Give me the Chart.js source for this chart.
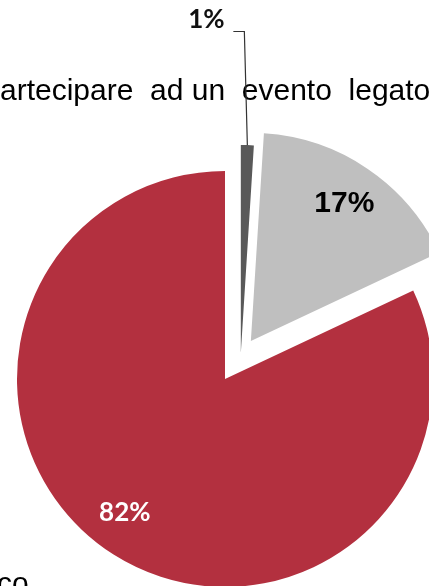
<!DOCTYPE html>
<html>
<head>
<meta charset="utf-8">
<script src="https://cdn.jsdelivr.net/npm/chart.js@4"></script>
<style>
  html, body { margin: 0; padding: 0; background: #fff; overflow: hidden; }
  #wrap { position: relative; width: 429px; height: 586px; }
</style>
</head>
<body>
<div id="wrap"><canvas id="pie"></canvas></div>
<script>
// answers, clockwise from 12 o'clock
const categories = ["Non so", "No", "Sì"];
const shares = [1, 17, 82];
const sliceColors = ["#595959", "#bfbfbf", "#b3303f"];

// how far each slice is pulled out of the pie
const explode = [26, 46, 0];
const nudgeX = [15, 0, 0];

// label look per slice
const labelFonts = ['bold 26px Lato, sans-serif', 'bold 30px "Liberation Sans", Arial, sans-serif', 'bold 26px Lato, sans-serif'];
const labelColors = ["#111", "#000", "#fff"];
const labelShift = [[0, 0], [0, 0], [-11, -7]];

const explodePlugin = {
  id: "explode",
  afterDatasetUpdate(chart, args) {
    args.meta.data.forEach((arc, i) => {
      const mid = (arc.startAngle + arc.endAngle) / 2;
      arc.x += Math.cos(mid) * explode[i] + nudgeX[i];
      arc.y += Math.sin(mid) * explode[i];
    });
  }
};

// cut-off caption text behind the pie
const captionPlugin = {
  id: "caption",
  beforeDatasetsDraw(chart) {
    const c = chart.ctx;
    c.save();
    c.fillStyle = "#000";
    c.font = '30px "Liberation Sans", Arial, sans-serif';
    c.textBaseline = "alphabetic";
    c.textAlign = "left";
    c.fillText("artecipare  ad un  evento  legato", 0, 100);
    c.fillText("co", -3, 593);
    c.restore();
  }
};

const labelPlugin = {
  id: "sliceLabels",
  afterDatasetsDraw(chart) {
    const c = chart.ctx;
    const arcs = chart.getDatasetMeta(0).data;
    c.save();
    c.textAlign = "center";
    c.textBaseline = "middle";
    arcs.forEach((arc, i) => {
      const mid = (arc.startAngle + arc.endAngle) / 2;
      const text = shares[i] + "%";
      c.font = labelFonts[i];
      c.fillStyle = labelColors[i];
      if (i === 0) {
        // tiny slice: label outside with a leader line
        const tipX = arc.x + Math.cos(mid) * arc.outerRadius;
        const tipY = arc.y + Math.sin(mid) * arc.outerRadius;
        const elbowX = tipX - 3;
        const elbowY = 31;
        c.strokeStyle = "#333";
        c.lineWidth = 1.2;
        c.beginPath();
        c.moveTo(elbowX - 11, elbowY + 0.5);
        c.lineTo(elbowX, elbowY + 0.5);
        c.lineTo(tipX, tipY);
        c.stroke();
        c.fillText(text, elbowX - 38, 20);
      } else {
        const r = arc.outerRadius * 0.8;
        const x = arc.x + Math.cos(mid) * r + labelShift[i][0];
        const y = arc.y + Math.sin(mid) * r + labelShift[i][1];
        c.fillText(text, x, y);
      }
    });
    c.restore();
  }
};

new Chart(document.getElementById("pie").getContext("2d"), {
  type: "pie",
  data: {
    labels: categories,
    datasets: [{
      data: shares,
      backgroundColor: sliceColors,
      borderWidth: 0,
      radius: 208,
      clip: false
    }]
  },
  options: {
    responsive: true,
    maintainAspectRatio: false,
    animation: false,
    layout: { padding: { left: 21, right: 0, top: 172, bottom: 0 } },
    plugins: {
      legend: { display: false },
      tooltip: { enabled: false }
    }
  },
  plugins: [explodePlugin, captionPlugin, labelPlugin]
});
</script>
</body>
</html>
